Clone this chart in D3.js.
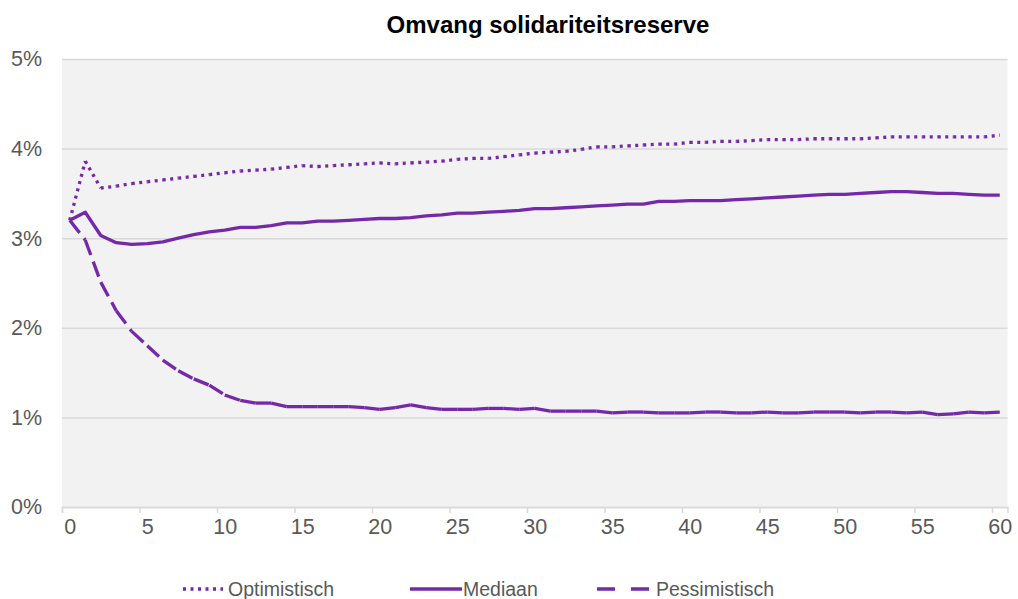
<!DOCTYPE html>
<html lang="nl">
<head>
<meta charset="UTF-8">
<script src="https://cdn.jsdelivr.net/npm/d3@7/dist/d3.min.js"></script>
<title>Omvang solidariteitsreserve</title>
<style>
  body { margin: 0; background: #fff; }
  text { font-family: "Liberation Sans", Arial, sans-serif; }
</style>
</head>
<body>
<script>
    // chart size
    var w = 1018;
    var h = 599;
    var plot = {left: 62, right: 1007.5, top: 59, bottom: 507};
    var purple = "#7429AA";

    // years 0..60
    var jaren = d3.range(0, 61);

    var optimistisch = [3.20, 3.86, 3.56, 3.58, 3.61, 3.63, 3.65, 3.67, 3.69, 3.71,
        3.73, 3.75, 3.76, 3.77, 3.79, 3.81, 3.80, 3.81, 3.82, 3.83,
        3.84, 3.83, 3.84, 3.85, 3.86, 3.88, 3.89, 3.89, 3.91, 3.93,
        3.95, 3.96, 3.97, 3.99, 4.02, 4.02, 4.03, 4.04, 4.05, 4.05,
        4.07, 4.07, 4.08, 4.08, 4.09, 4.10, 4.10, 4.10, 4.11, 4.11,
        4.11, 4.11, 4.12, 4.13, 4.13, 4.13, 4.13, 4.13, 4.13, 4.13,
        4.15];

    var mediaan = [3.20, 3.29, 3.03, 2.95, 2.93, 2.94, 2.96, 3.00, 3.04, 3.07,
        3.09, 3.12, 3.12, 3.14, 3.17, 3.17, 3.19, 3.19, 3.20, 3.21,
        3.22, 3.22, 3.23, 3.25, 3.26, 3.28, 3.28, 3.29, 3.30, 3.31,
        3.33, 3.33, 3.34, 3.35, 3.36, 3.37, 3.38, 3.38, 3.41, 3.41,
        3.42, 3.42, 3.42, 3.43, 3.44, 3.45, 3.46, 3.47, 3.48, 3.49,
        3.49, 3.50, 3.51, 3.52, 3.52, 3.51, 3.50, 3.50, 3.49, 3.48,
        3.48];

    var pessimistisch = [3.20, 2.98, 2.51, 2.19, 1.96, 1.80, 1.64, 1.52, 1.43, 1.36,
        1.25, 1.19, 1.16, 1.16, 1.12, 1.12, 1.12, 1.12, 1.12, 1.11,
        1.09, 1.11, 1.14, 1.11, 1.09, 1.09, 1.09, 1.10, 1.10, 1.09,
        1.10, 1.07, 1.07, 1.07, 1.07, 1.05, 1.06, 1.06, 1.05, 1.05,
        1.05, 1.06, 1.06, 1.05, 1.05, 1.06, 1.05, 1.05, 1.06, 1.06,
        1.06, 1.05, 1.06, 1.06, 1.05, 1.06, 1.03, 1.04, 1.06, 1.05,
        1.06];

    var xTickLabels = [0, 5, 10, 15, 20, 25, 30, 35, 40, 45, 50, 55, 60];
    var yTickLabels = [0, 1, 2, 3, 4, 5];

    var series = [
        {naam: "Optimistisch", waarden: optimistisch, dash: "3,4.5", legendDash: "3,4.5", legendW: 40, legendGap: 5},
        {naam: "Mediaan", waarden: mediaan, dash: null, legendDash: null, legendW: 52, legendGap: 1},
        {naam: "Pessimistisch", waarden: pessimistisch, dash: "16,7", legendDash: "18,16", legendW: 53, legendGap: 6}
    ];

    var svg = d3.select("body")
        .append("svg")
        .attr("width", w)
        .attr("height", h);

    // categories sit in the middle of each band, ticks on the band edges
    var xScale = d3.scaleLinear()
        .domain([-0.5, jaren.length - 0.5])
        .range([plot.left, plot.right]);

    var yScale = d3.scaleLinear()
        .domain([0, 5])
        .range([plot.bottom, plot.top]);

    svg.append("rect")
        .attr("x", plot.left)
        .attr("y", plot.top)
        .attr("width", plot.right - plot.left)
        .attr("height", plot.bottom - plot.top)
        .attr("fill", "#f2f2f2");

    // gridlines
    svg.append("g")
        .attr("transform", "translate(" + plot.left + ",0)")
        .call(d3.axisLeft(yScale)
            .tickValues(yTickLabels)
            .tickSize(-(plot.right - plot.left))
            .tickFormat(""))
        .call(function (g) {
            g.select(".domain").remove();
            g.selectAll("line").attr("stroke", "#d9d9d9").attr("stroke-width", 1.5);
        });

    // y labels
    svg.append("g")
        .attr("transform", "translate(42,0)")
        .call(d3.axisLeft(yScale)
            .tickValues(yTickLabels)
            .tickSize(0)
            .tickPadding(0)
            .tickFormat(function (d) { return d + "%"; }))
        .call(function (g) {
            g.select(".domain").remove();
            g.selectAll("text")
                .attr("font-size", "21.5px")
                .attr("fill", "#595959")
                .attr("font-family", "Liberation Sans, Arial, sans-serif");
        });

    // x axis: tick marks at band edges
    svg.append("g")
        .attr("transform", "translate(0," + plot.bottom + ")")
        .call(d3.axisBottom(xScale)
            .tickValues(xTickLabels.map(function (d) { return d - 0.5; }))
            .tickSizeOuter(0)
            .tickSize(6)
            .tickFormat(""))
        .call(function (g) {
            g.select(".domain").attr("stroke", "#d9d9d9").attr("stroke-width", 1.5);
            g.selectAll("line").attr("stroke", "#d9d9d9").attr("stroke-width", 1.5);
        });

    // x labels at band centres
    svg.append("g")
        .attr("transform", "translate(0," + plot.bottom + ")")
        .call(d3.axisBottom(xScale)
            .tickValues(xTickLabels)
            .tickSize(0)
            .tickPadding(12))
        .call(function (g) {
            g.select(".domain").remove();
            g.selectAll("text")
                .attr("font-size", "21.5px")
                .attr("fill", "#595959")
                .attr("font-family", "Liberation Sans, Arial, sans-serif");
        });

    var line = d3.line()
        .x(function (d) { return xScale(d.jaar); })
        .y(function (d) { return yScale(d.waarde); });

    series.forEach(function (s) {
        var punten = jaren.map(function (j, i) { return {jaar: j, waarde: s.waarden[i]}; });
        var g = svg.append("g");
        if (s.dash === null) {
            g.append("path")
                .datum(punten)
                .attr("d", line)
                .attr("fill", "none")
                .attr("stroke", purple)
                .attr("stroke-width", 3.3)
                .attr("stroke-linejoin", "round");
        } else {
            // dash pattern restarts on each segment
            var stukken = d3.pairs(punten);
            g.selectAll("path")
                .data(stukken)
                .enter()
                .append("path")
                .attr("d", line)
                .attr("fill", "none")
                .attr("stroke", purple)
                .attr("stroke-width", 3.3)
                .attr("stroke-dasharray", s.dash);
        }
    });

    // title
    svg.append("text")
        .attr("x", 548)
        .attr("y", 33)
        .attr("text-anchor", "middle")
        .attr("font-size", "24px")
        .attr("font-weight", "bold")
        .attr("fill", "#000")
        .text("Omvang solidariteitsreserve");

    // legend
    var legendX = [183, 410, 597];
    var legend = svg.selectAll(".legend")
        .data(series)
        .enter()
        .append("g")
        .attr("class", "legend")
        .attr("transform", function (d, i) { return "translate(" + legendX[i] + ",589)"; });

    legend.append("line")
        .attr("x1", 0)
        .attr("x2", function (d) { return d.legendW; })
        .attr("y1", 0)
        .attr("y2", 0)
        .attr("stroke", purple)
        .attr("stroke-width", 3.3)
        .attr("stroke-dasharray", function (d) { return d.legendDash; });

    legend.append("text")
        .attr("x", function (d) { return d.legendW + d.legendGap; })
        .attr("y", 0)
        .attr("dy", "0.35em")
        .attr("font-size", "19.5px")
        .attr("fill", "#595959")
        .text(function (d) { return d.naam; });
</script>
</body>
</html>
